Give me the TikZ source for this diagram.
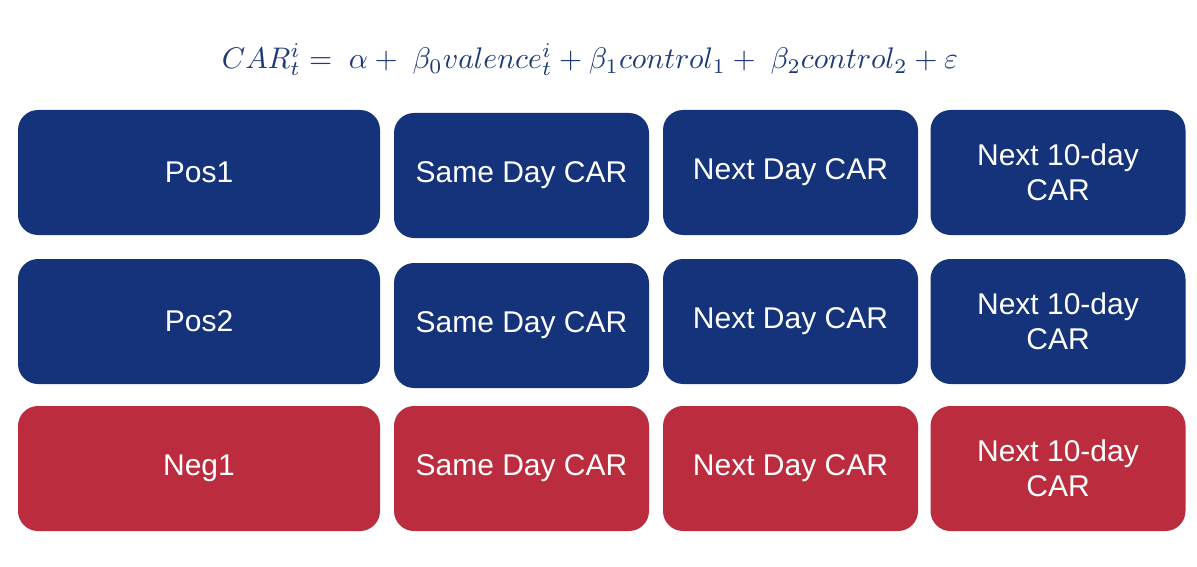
\documentclass[tikz,border=0pt]{standalone}
\usepackage{fontspec}
\usepackage{graphicx}
\setmainfont{Liberation Sans}
\definecolor{navy}{HTML}{14337A}
\definecolor{crimson}{HTML}{BB2C3F}
\definecolor{formulablue}{HTML}{1E3A78}
\begin{document}
\begin{tikzpicture}[x=1pt,y=-1pt,
  cell/.style={rounded corners=20pt, inner sep=0pt, text=white, align=center,
    font=\fontsize{30}{35}\selectfont, minimum height=125pt},
  bluecell/.style={cell, fill=navy},
  redcell/.style={cell, fill=crimson},
  wide/.style={minimum width=362pt},
  narrow/.style={minimum width=255pt}]
\useasboundingbox (0,0) rectangle (1197,567);
\node[text=formulablue, inner sep=0pt] (eq) at (590,60)
  {\resizebox{736pt}{!}{$CAR_t^i=\;\alpha+\;\beta_0 valence_t^i+\beta_1 control_1+\;\beta_2 control_2+\varepsilon$}};
% row 1
\node[bluecell, wide]   (pos1)  at (199,172.5) {Pos1};
\node[bluecell, narrow] (same1) at (521.5,175.5) {Same Day CAR};
\node[bluecell, narrow] (next1) at (790.5,172.5) {Next Day CAR};
\node[bluecell, narrow] (ten1)  at (1058,172.5) {Next 10-day\\CAR};
% row 2
\node[bluecell, wide]   (pos2)  at (199,321.5) {Pos2};
\node[bluecell, narrow] (same2) at (521.5,325.5) {Same Day CAR};
\node[bluecell, narrow] (next2) at (790.5,321.5) {Next Day CAR};
\node[bluecell, narrow] (ten2)  at (1058,321.5) {Next 10-day\\CAR};
% row 3
\node[redcell, wide]   (neg1)  at (199,468.5) {Neg1};
\node[redcell, narrow] (same3) at (521.5,468.5) {Same Day CAR};
\node[redcell, narrow] (next3) at (790.5,468.5) {Next Day CAR};
\node[redcell, narrow] (ten3)  at (1058,468.5) {Next 10-day\\CAR};
\end{tikzpicture}
\end{document}
